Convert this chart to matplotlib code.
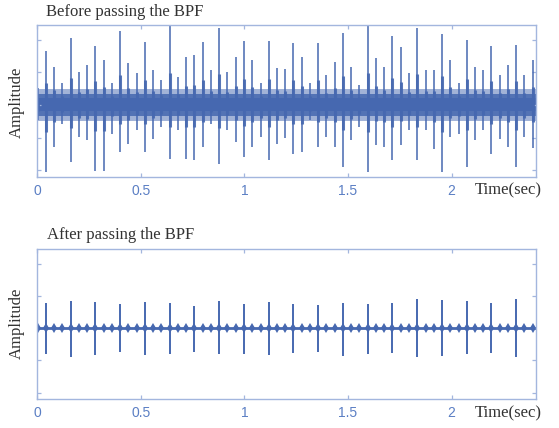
import matplotlib.pyplot as plt

blue = "#4668b0"
frame = "#a3b6de"
ticklab = "#5b7fc4"
textcol = "#333333"

# impulse events of the raw signal, one every ~0.04 s
times = [0.003, 0.043, 0.083, 0.122, 0.162, 0.202, 0.242, 0.282, 0.321, 0.361,
         0.401, 0.441, 0.481, 0.520, 0.560, 0.600, 0.640, 0.680, 0.719, 0.759,
         0.799, 0.839, 0.879, 0.918, 0.958, 0.998, 1.038, 1.078, 1.117, 1.157,
         1.197, 1.237, 1.277, 1.316, 1.356, 1.396, 1.436, 1.476, 1.515, 1.555,
         1.595, 1.635, 1.675, 1.714, 1.754, 1.794, 1.834, 1.874, 1.913, 1.953,
         1.993, 2.033, 2.073, 2.112, 2.152, 2.192, 2.232, 2.272, 2.311, 2.351,
         2.391]
raw_top = [0.51, 1.66, 1.17, 0.66, 2.04, 1.02, 1.22, 1.81, 1.38, 0.66,
           2.28, 1.28, 0.97, 1.94, 1.07, 0.76, 2.42, 0.87, 1.48, 1.53,
           1.94, 1.07, 2.35, 1.02, 1.48, 1.97, 1.38, 0.66, 1.97, 1.12,
           1.10, 1.91, 1.48, 0.66, 1.89, 0.92, 1.33, 2.20, 1.17, 0.61,
           2.46, 1.43, 1.17, 2.10, 1.79, 0.97, 2.35, 1.07, 1.07, 2.18,
           1.38, 0.66, 1.99, 1.17, 1.07, 1.81, 0.92, 1.22, 1.84, 0.92,
           1.38]
raw_bot = [-0.47, -2.06, -1.29, -0.57, -1.75, -0.98, -1.08, -2.01, -2.01, -0.88,
           -1.44, -1.19, -0.77, -1.44, -1.03, -0.67, -1.65, -0.77, -1.65, -1.70,
           -1.29, -0.57, -1.80, -0.77, -1.13, -1.60, -1.29, -0.98, -1.70, -1.19,
           -1.00, -1.49, -1.44, -0.47, -1.29, -0.98, -1.29, -1.90, -1.08, -0.67,
           -2.06, -1.24, -1.29, -1.70, -1.24, -0.77, -1.70, -0.77, -1.34, -2.06,
           -0.98, -0.88, -1.90, -1.08, -0.77, -1.49, -1.03, -1.29, -1.90, -0.98,
           -1.33]
noise_outer = 0.5
noise_mid = 0.35
noise_core = 0.2

# filtered signal: tall pulses every third event
bpf_times = times[1::3]
bpf_top = [0.78, 0.85, 0.82, 0.76, 0.82, 0.78, 0.68, 0.85, 0.76, 0.82,
           0.76, 0.71, 0.78, 0.76, 0.78, 0.89, 0.87, 0.85, 0.78, 0.89]
bpf_bot = [-0.82, -0.89, -0.84, -0.73, -0.84, -0.79, -0.73, -0.82, -0.79, -0.84,
           -0.76, -0.73, -0.87, -0.79, -0.76, -0.91, -0.87, -0.81, -0.76, -0.91]
bpf_blob = [0.0] * len(times)

xticks = [0, 0.5, 1, 1.5, 2]
xticklabels = ["0", "0.5", "1", "1.5", "2"]
yticks = [-2, -1, 0, 1, 2]

fig = plt.figure(figsize=(5.59, 4.28), dpi=100)
ax1 = fig.add_axes([0.0662, 0.587, 0.892, 0.3546])
ax2 = fig.add_axes([0.0662, 0.0678, 0.892, 0.3504])

for ax in (ax1, ax2):
    ax.set_xlim(0, 2.405)
    ax.set_ylim(-2.2, 2.45)
    ax.set_xticks(xticks)
    ax.set_xticklabels(xticklabels, family="Liberation Sans", fontsize=10,
                       color=ticklab)
    ax.set_yticks(yticks)
    ax.set_yticklabels([])
    ax.tick_params(direction="in", length=3, width=0.9, color=frame,
                   top=True, right=True, pad=5)
    for s in ax.spines.values():
        s.set_color(frame)
        s.set_linewidth(1.0)

# top: raw signal
ax1.axhspan(-noise_outer, noise_outer, color=blue, alpha=0.5, lw=0)
ax1.axhspan(-noise_mid, noise_mid, color=blue, alpha=0.85, lw=0)
ax1.axhspan(-noise_core, noise_core, color=blue, lw=0)
ax1.vlines(times, [0.4 * b for b in raw_bot], [0.4 * t for t in raw_top],
           color=blue, lw=2.2, alpha=0.9)
ax1.vlines(times, raw_bot, raw_top, color=blue, lw=1.1)

# bottom: band-pass filtered signal
ax2.axhline(0, color=blue, lw=2.0)
ax2.plot(times, bpf_blob, "d", color=blue, ms=5.2, mew=0)
ax2.vlines(bpf_times, bpf_bot, bpf_top, color=blue, lw=1.4)

serif = "Liberation Serif"
fig.text(0.082, 0.972, "Before passing the BPF", family=serif, fontsize=12,
         color=textcol, va="center")
fig.text(0.084, 0.451, "After passing the BPF", family=serif, fontsize=12,
         color=textcol, va="center")
fig.text(0.849, 0.556, "Time(sec)", family=serif, fontsize=12,
         color=textcol, va="center")
fig.text(0.849, 0.035, "Time(sec)", family=serif, fontsize=12,
         color=textcol, va="center")
fig.text(0.030, 0.762, "Amplitude", family=serif, fontsize=12,
         color=textcol, va="center", ha="center", rotation=90)
fig.text(0.030, 0.245, "Amplitude", family=serif, fontsize=12,
         color=textcol, va="center", ha="center", rotation=90)

plt.savefig("out.png", dpi=100)
